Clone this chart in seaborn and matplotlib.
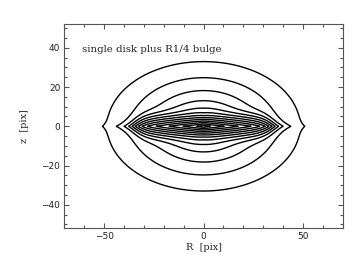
import numpy as np
import matplotlib
matplotlib.use("Agg")
import matplotlib.pyplot as plt
from matplotlib.ticker import MultipleLocator
import seaborn as sns

# ---- model description (values read / tuned from the picture) ----
title_text = "single disk plus R1/4 bulge"
x_label = "R  [pix]"
y_label = "z  [pix]"
x_ticks = [-50, 0, 50]
y_ticks = [-40, -20, 0, 20, 40]

# R^1/4 bulge
bulge_re = 15.0        # effective radius [pix]
bulge_q = 0.68         # axis ratio

# edge-on disk
disk_ln_i0 = 6.22      # central ln intensity
disk_hz0 = 1.0         # central vertical scale [pix]
disk_hz_flare = 0.5    # extra scale height at large R
disk_r_flare = 15.0
disk_slope_in = 0.10   # inner radial ln-slope per pix
disk_slope_out = 0.16  # extra outer slope
disk_r_break = 28.0
disk_w_break = 2.5
disk_bump_amp = 0.25
disk_bump_r = 35.5
disk_bump_w = 5.0

# contour levels (ln intensity)
levels_ln = [-2.615, -1.905, -1.195, -0.485, 0.225, 0.935, 1.645,
             2.355, 3.065, 3.775, 4.485, 5.195, 5.905]

# ---- build model image ----
r_axis = np.linspace(-70, 70, 1401)
z_axis = np.linspace(-52, 52, 1041)
RR, ZZ = np.meshgrid(r_axis, z_axis)

m = np.sqrt(RR ** 2 + (ZZ / bulge_q) ** 2)
bulge = np.exp(-7.669 * ((m / bulge_re) ** 0.25 - 1.0))

r1 = np.linspace(0, 80, 8001)
slope = (disk_slope_in
         + disk_slope_out / (1 + np.exp(-(r1 - disk_r_break) / disk_w_break))
         + disk_bump_amp * np.exp(-((r1 - disk_bump_r) / disk_bump_w) ** 2))
drop = np.concatenate([[0], np.cumsum(0.5 * (slope[1:] + slope[:-1]) * np.diff(r1))])
hz = disk_hz0 + disk_hz_flare * (1 - np.exp(-np.abs(RR) / disk_r_flare))
disk = np.exp(disk_ln_i0 - np.interp(np.abs(RR), r1, drop) - np.abs(ZZ) / hz)

ln_img = np.log(bulge + disk)

# ---- plot ----
sns.set_theme(style="ticks")
plt.rcParams["font.family"] = ["DejaVu Sans"]
fig = plt.figure(figsize=(3.53, 2.73), dpi=100)
ax = fig.add_axes([0.1827, 0.1637, 0.7881, 0.7473])

ax.contour(RR, ZZ, ln_img, levels=levels_ln, colors="black", linewidths=1.0,
           linestyles="solid", negative_linestyles="solid")

ax.set_xlim(-70, 70)
ax.set_ylim(-52, 52)
ax.set_xticks(x_ticks)
ax.set_yticks(y_ticks)
ax.xaxis.set_minor_locator(MultipleLocator(10))
ax.yaxis.set_minor_locator(MultipleLocator(5))
ax.tick_params(which="both", direction="in", top=True, right=True,
               colors="#555555", labelcolor="#222222", labelsize=6.5, width=0.8)
ax.tick_params(which="major", length=3.6, pad=3)
ax.tick_params(which="minor", length=1.9)
for sp in ax.spines.values():
    sp.set_color("#555555")
    sp.set_linewidth(0.8)

ax.set_xlabel(x_label, family="DejaVu Serif", fontsize=7, color="#222222", labelpad=1)
ax.set_ylabel(y_label, family="DejaVu Serif", fontsize=7, color="#222222", labelpad=9)
ax.text(-61, 39.1, title_text, family="DejaVu Serif", fontsize=7.4,
        color="#222222", va="center", ha="left")

fig.savefig("out.png", dpi=100)
